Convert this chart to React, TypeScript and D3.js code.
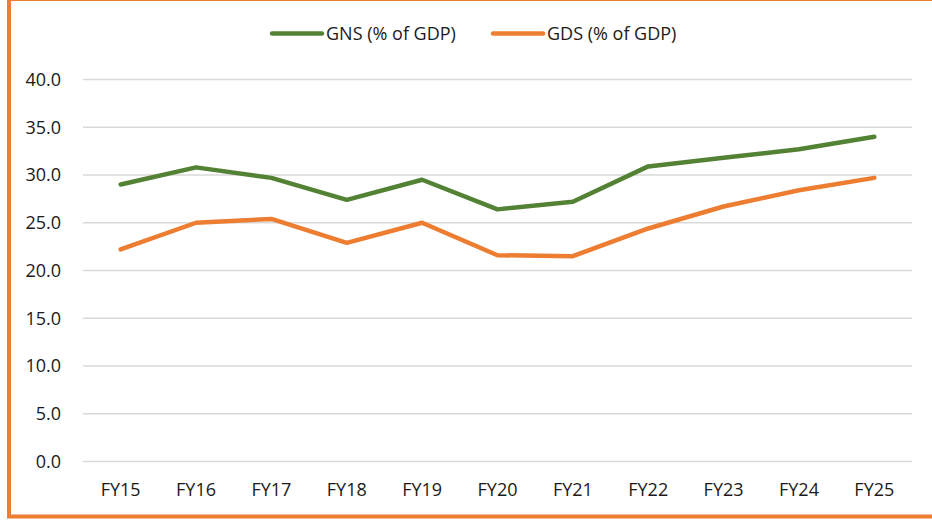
import React, { useEffect, useRef } from 'react';
import * as d3 from 'd3';

const years = ['FY15', 'FY16', 'FY17', 'FY18', 'FY19', 'FY20', 'FY21', 'FY22', 'FY23', 'FY24', 'FY25'];
const gns = [29.0, 30.8, 29.7, 27.4, 29.5, 26.4, 27.2, 30.9, 31.8, 32.7, 34.0];
const gds = [22.2, 25.0, 25.4, 22.9, 25.0, 21.6, 21.5, 24.4, 26.7, 28.4, 29.7];
const yTicks = [0, 5, 10, 15, 20, 25, 30, 35, 40];

const series = [
    { name: 'GNS (% of GDP)', values: gns, color: '#548235' },
    { name: 'GDS (% of GDP)', values: gds, color: '#ED7D31' },
];

const W = 932, H = 523;
const FONT = '"Open Sans", sans-serif';
const FS = 18;

const App = () => {
    const svgRef = useRef<SVGSVGElement>(null);

    useEffect(() => {
        if (!svgRef.current) return;
        const svg = d3.select(svgRef.current);
        svg.selectAll('*').remove();

        const left = 83, right = 912, top = 79.5, bottom = 461.5;

        const x = d3.scalePoint<string>().domain(years).range([left, right]).padding(0.5);
        const y = d3.scaleLinear().domain([0, 40]).range([bottom, top]);

        // frame
        svg.append('rect')
            .attr('x', 9).attr('y', -1)
            .attr('width', W + 20).attr('height', 517.5)
            .attr('fill', 'white')
            .attr('stroke', '#ED7D31').attr('stroke-width', 4);

        // gridlines
        svg.append('g').selectAll('line').data(yTicks).join('line')
            .attr('x1', left).attr('x2', right)
            .attr('y1', d => y(d)).attr('y2', d => y(d))
            .attr('stroke', '#d9d9d9').attr('stroke-width', 1.3);

        svg.append('g').selectAll('text').data(yTicks).join('text')
            .attr('x', 61).attr('y', d => y(d))
            .attr('dy', '0.36em')
            .attr('text-anchor', 'end')
            .attr('font-family', FONT).attr('font-size', FS).attr('fill', '#1a1a1a')
            .text(d => d.toFixed(1));

        svg.append('g').selectAll('text').data(years).join('text')
            .attr('x', d => x(d)!).attr('y', 490)
            .attr('dy', '0.36em')
            .attr('text-anchor', 'middle')
            .attr('font-family', FONT).attr('font-size', FS).attr('fill', '#1a1a1a')
            .text(d => d);

        const line = d3.line<number>()
            .x((_, i) => x(years[i])!)
            .y(d => y(d));

        svg.append('g').selectAll('path').data(series).join('path')
            .attr('d', d => line(d.values))
            .attr('fill', 'none')
            .attr('stroke', d => d.color)
            .attr('stroke-width', 4.5)
            .attr('stroke-linecap', 'round')
            .attr('stroke-linejoin', 'round');

        // legend
        const legendX = [272, 493];
        const lg = svg.append('g').selectAll('g').data(series).join('g')
            .attr('transform', (_, i) => `translate(${legendX[i]},33.5)`);
        lg.append('line')
            .attr('x1', 0).attr('x2', 50)
            .attr('stroke', d => d.color).attr('stroke-width', 4.5)
            .attr('stroke-linecap', 'round');
        lg.append('text')
            .attr('x', 54).attr('dy', '0.36em')
            .attr('font-family', FONT).attr('font-size', FS).attr('fill', '#1a1a1a')
            .text(d => d.name);
    }, []);

    return (
        <svg ref={svgRef} width={W} height={H}
            style={{ position: 'absolute', left: 0, top: 0, background: 'white' }} />
    );
};

export default App;
